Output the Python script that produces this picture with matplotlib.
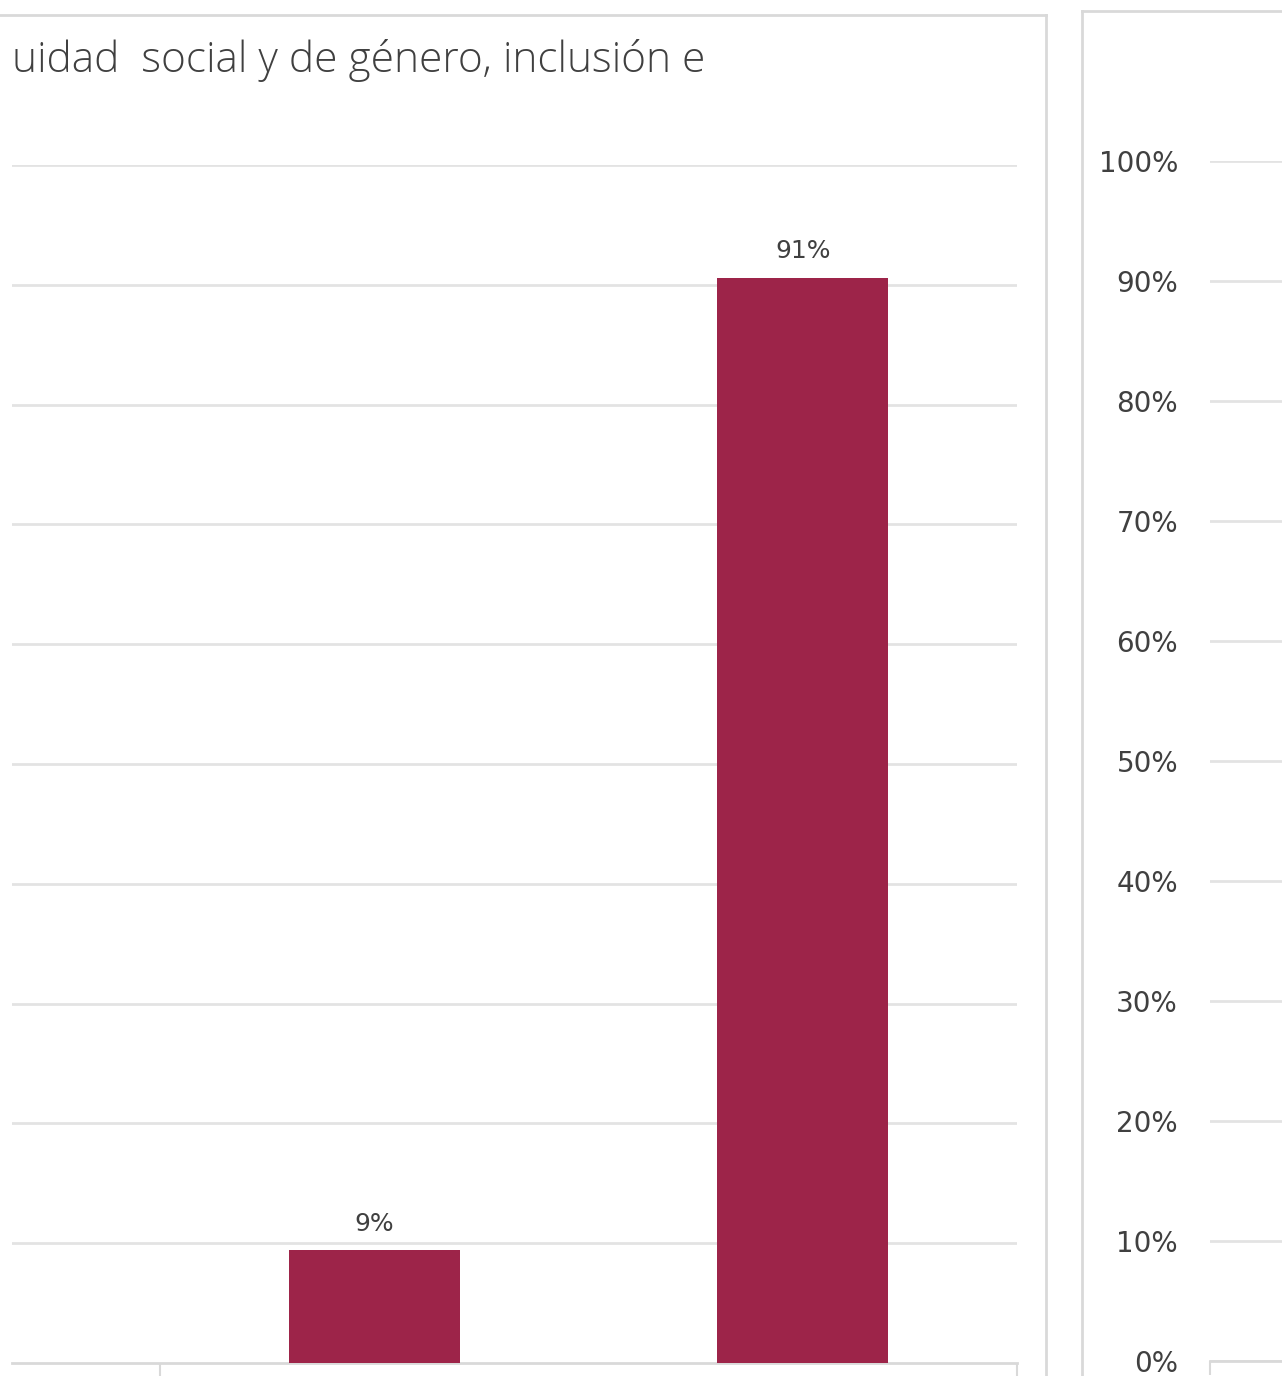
import matplotlib.pyplot as plt
from matplotlib.lines import Line2D
import numpy as np

# data
categories = ["Sí", "No"]
values = [0.094, 0.906]
value_labels = ["9%", "91%"]
title_text = "uidad  social y de género, inclusión e"
right_ticks = [0.0, 0.1, 0.2, 0.3, 0.4, 0.5, 0.6, 0.7, 0.8, 0.9, 1.0]
right_tick_labels = ["0%", "10%", "20%", "30%", "40%", "50%", "60%", "70%", "80%", "90%", "100%"]

W, H = 1282, 1376
bar_color = "#9D2449"
grid_color = "#e3e3e3"
text_color = "#404040"
num_font = ['DejaVu Sans']
plt.rcParams['font.family'] = ['Open Sans', 'DejaVu Sans']

fig = plt.figure(figsize=(W / 100, H / 100), dpi=100)


def px_axes(x0, x1, ytop, ybot):
    return fig.add_axes([x0 / W, 1 - ybot / H, (x1 - x0) / W, (ybot - ytop) / H])


# left chart (cut at the left edge)
ax = px_axes(12, 1017, 165, 1363)
x = np.arange(len(categories))
ax.bar(x, values, width=0.4, color=bar_color, zorder=3)
ax.set_xlim(-0.846, 1.5)
ax.set_ylim(0, 1)
ax.set_yticks(right_ticks[1:])
ax.yaxis.grid(True, color=grid_color, linewidth=2)
ax.tick_params(axis='y', length=0, labelleft=False)
ax.set_xticks([-0.5, 1.5])
ax.set_xticklabels([])
ax.tick_params(axis='x', direction='out', length=10, width=1.5, color="#d9d9d9")
for s in ["left", "right", "top"]:
    ax.spines[s].set_visible(False)
ax.spines["bottom"].set_color("#d9d9d9")
ax.spines["bottom"].set_linewidth(2)
ax.set_axisbelow(True)
for xi, v, lab in zip(x, values, value_labels):
    ax.annotate(lab, (xi, v), xytext=(0, 19), textcoords="offset points",
                ha="center", va="center", fontsize=18, color=text_color,
                family=num_font)

fig.text(12 / W, 1 - 60 / H, title_text, fontsize=30.5, color=text_color,
         ha="left", va="center", fontweight="light")

# chart frames
frame_kw = dict(color="#d9d9d9", linewidth=2, transform=fig.transFigure)
fig.add_artist(Line2D([0, 1046 / W], [1 - 15 / H] * 2, **frame_kw))
fig.add_artist(Line2D([1046 / W] * 2, [1 - 15 / H, 0], **frame_kw))
fig.add_artist(Line2D([1082 / W, 1], [1 - 11 / H] * 2, **frame_kw))
fig.add_artist(Line2D([1082 / W] * 2, [1 - 11 / H, 0], **frame_kw))

# right chart (only its axis is visible)
ax2 = px_axes(1210, 1400, 161, 1361)
ax2.set_ylim(0, 1)
ax2.set_xlim(0, 1)
ax2.set_yticks(right_ticks)
ax2.set_yticklabels(right_tick_labels, family=num_font)
ax2.yaxis.grid(True, color=grid_color, linewidth=2)
ax2.tick_params(axis='y', length=0, pad=23, labelsize=20, labelcolor=text_color)
ax2.set_xticks([0])
ax2.set_xticklabels([])
ax2.tick_params(axis='x', direction='out', length=10, width=1.5, color="#d9d9d9")
for s in ["left", "right", "top"]:
    ax2.spines[s].set_visible(False)
ax2.spines["bottom"].set_color("#d9d9d9")
ax2.spines["bottom"].set_linewidth(2)

fig.savefig("out.png", dpi=100)
